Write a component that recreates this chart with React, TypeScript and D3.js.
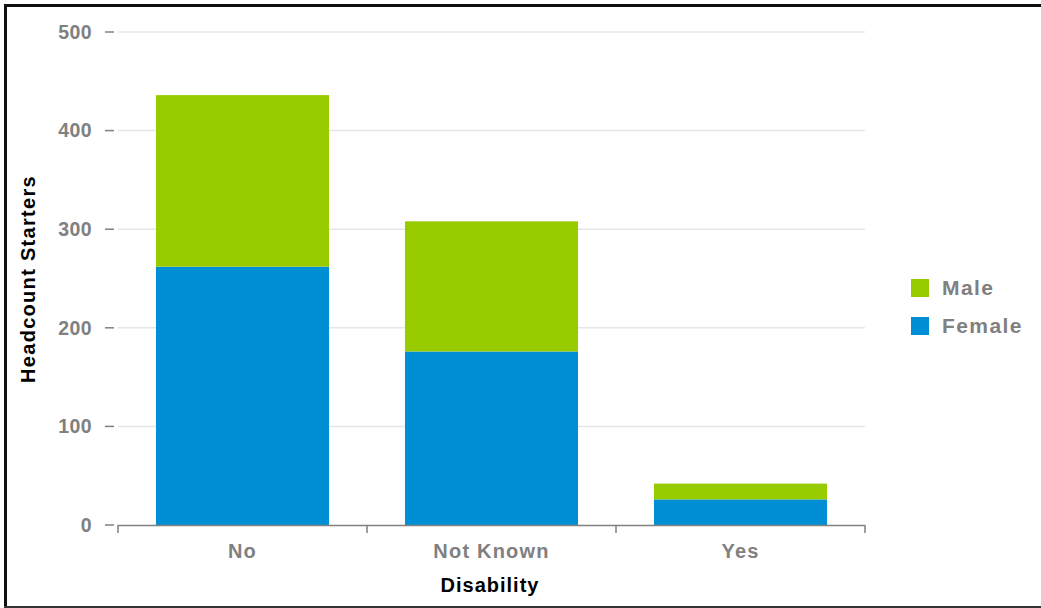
import React from "react";
import * as d3 from "d3";

const categories = ["No", "Not Known", "Yes"];
const female = [262, 176, 26];
const male = [174, 132, 16];
const seriesNames = ["Male", "Female"];
const yTicks = [0, 100, 200, 300, 400, 500];

const GREEN = "#99cc00";
const BLUE = "#008fd5";
const GRAY = "#808080";

export default function App() {
  const W = 1041, H = 608;
  const x0 = 118, x1 = 865, yTop = 32, yBot = 525;
  const x = d3.scaleBand<string>().domain(categories).range([x0, x1]).paddingInner(0.305).paddingOuter(0.1525);
  const y = d3.scaleLinear().domain([0, 500]).range([yBot, yTop]);
  const font = "Arial, 'Liberation Sans', sans-serif";
  const stacked = categories.map((c, i) => ({ c, f: female[i], m: male[i] }));
  const colors: Record<string, string> = { Male: GREEN, Female: BLUE };
  const tickBounds = [x0, ...categories.map((c, i) => x0 + ((i + 1) * (x1 - x0)) / categories.length)];

  return (
    <svg width={W} height={H} style={{ position: "fixed", left: 0, top: 0, background: "#fff" }} fontFamily={font}>
      <rect x={0} y={0} width={W} height={H} fill="#fff" />
      {/* border */}
      <line x1={4} x2={W} y1={5.5} y2={5.5} stroke="#111" strokeWidth={3} />
      <line x1={5.5} x2={5.5} y1={4} y2={H} stroke="#111" strokeWidth={3} />
      <line x1={4} x2={W} y1={607} y2={607} stroke="#333" strokeWidth={2} />
      {/* grid and y ticks */}
      {yTicks.map((t) => (
        <g key={t}>
          {t > 0 && <line x1={x0} x2={x1} y1={y(t)} y2={y(t)} stroke="#e6e6e6" strokeWidth={1.5} />}
          <line x1={105} x2={114} y1={y(t)} y2={y(t)} stroke={GRAY} strokeWidth={1.5} />
          <text x={92} y={y(t)} dy="0.35em" textAnchor="end" fontSize={19.5} fontWeight="bold" fill={GRAY} letterSpacing={0.4}>{t}</text>
        </g>
      ))}
      {/* bars */}
      {stacked.map((d) => (
        <g key={d.c}>
          <rect x={x(d.c)} y={y(d.f)} width={x.bandwidth()} height={y(0) - y(d.f)} fill={BLUE} />
          <rect x={x(d.c)} y={y(d.f + d.m)} width={x.bandwidth()} height={y(d.f) - y(d.f + d.m)} fill={GREEN} />
        </g>
      ))}
      {/* x axis */}
      <line x1={x0} x2={x1} y1={yBot + 0.5} y2={yBot + 0.5} stroke={GRAY} strokeWidth={1.5} />
      {tickBounds.map((tx, i) => (
        <line key={i} x1={tx} x2={tx} y1={yBot} y2={yBot + 8} stroke={GRAY} strokeWidth={1.5} />
      ))}
      {categories.map((c) => (
        <text key={c} x={(x(c) as number) + x.bandwidth() / 2} y={551} dy="0.35em" textAnchor="middle" fontSize={20} fontWeight="bold" fill={GRAY} letterSpacing={1.2}>{c}</text>
      ))}
      <text x={490} y={585} dy="0.35em" textAnchor="middle" fontSize={20} fontWeight="bold" fill="#000" letterSpacing={1}>Disability</text>
      <text transform={`translate(28,279) rotate(-90)`} dy="0.35em" textAnchor="middle" fontSize={20} fontWeight="bold" fill="#000" letterSpacing={1.3}>Headcount Starters</text>
      {/* legend */}
      {seriesNames.map((s, i) => (
        <g key={s} transform={`translate(911, ${279 + i * 38})`}>
          <rect x={0} y={0} width={18} height={18} fill={colors[s]} />
          <text x={31} y={9} dy="0.35em" fontSize={21} fontWeight="bold" fill={GRAY} letterSpacing={1.4}>{s}</text>
        </g>
      ))}
    </svg>
  );
}
